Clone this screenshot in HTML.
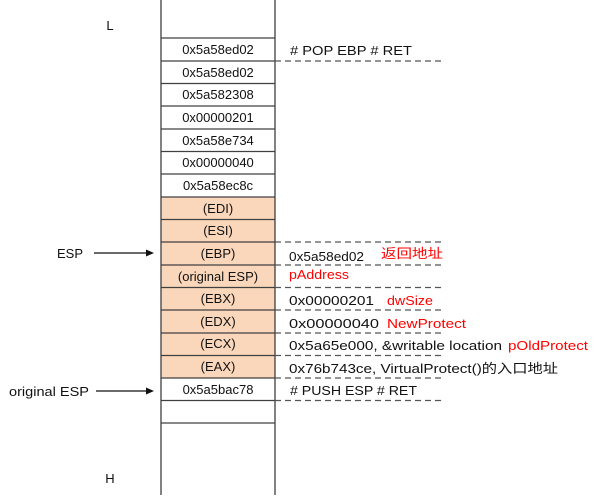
<!DOCTYPE html>
<html><head><meta charset="utf-8"><style>
html,body{margin:0;padding:0;background:#fff;}
svg text{font-family:"Liberation Sans","Noto Sans CJK SC",sans-serif;font-size:13px;}
</style></head><body>
<svg width="598" height="495" viewBox="0 0 598 495" xmlns="http://www.w3.org/2000/svg">
<rect x="161" y="197" width="114" height="181" fill="#fad7ba"/>
<g stroke="#404040" stroke-width="1.3">
<line x1="161" y1="0" x2="161" y2="495"/>
<line x1="275" y1="0" x2="275" y2="495"/>
<line x1="161" y1="38" x2="275" y2="38"/>
<line x1="161" y1="61" x2="275" y2="61"/>
<line x1="161" y1="83.5" x2="275" y2="83.5"/>
<line x1="161" y1="106" x2="275" y2="106"/>
<line x1="161" y1="129" x2="275" y2="129"/>
<line x1="161" y1="151.5" x2="275" y2="151.5"/>
<line x1="161" y1="174" x2="275" y2="174"/>
<line x1="161" y1="197" x2="275" y2="197"/>
<line x1="161" y1="219.5" x2="275" y2="219.5"/>
<line x1="161" y1="242" x2="275" y2="242"/>
<line x1="161" y1="265" x2="275" y2="265"/>
<line x1="161" y1="287.5" x2="275" y2="287.5"/>
<line x1="161" y1="310" x2="275" y2="310"/>
<line x1="161" y1="333" x2="275" y2="333"/>
<line x1="161" y1="355.5" x2="275" y2="355.5"/>
<line x1="161" y1="378" x2="275" y2="378"/>
<line x1="161" y1="400.5" x2="275" y2="400.5"/>
<line x1="161" y1="423" x2="275" y2="423"/>
</g>
<g stroke="#555" stroke-width="1.2" stroke-dasharray="6,4">
<line x1="275" y1="61" x2="445" y2="61"/>
<line x1="275" y1="242" x2="445" y2="242"/>
<line x1="275" y1="265" x2="445" y2="265"/>
<line x1="275" y1="287.5" x2="445" y2="287.5"/>
<line x1="275" y1="310" x2="445" y2="310"/>
<line x1="275" y1="333" x2="445" y2="333"/>
<line x1="275" y1="355.5" x2="445" y2="355.5"/>
<line x1="275" y1="378" x2="445" y2="378"/>
<line x1="275" y1="400.5" x2="445" y2="400.5"/>
</g>
<g text-anchor="middle" fill="#111">
<text x="218" y="54">0x5a58ed02</text>
<text x="218" y="77">0x5a58ed02</text>
<text x="218" y="99">0x5a582308</text>
<text x="218" y="122">0x00000201</text>
<text x="218" y="145">0x5a58e734</text>
<text x="218" y="167">0x00000040</text>
<text x="218" y="190">0x5a58ec8c</text>
<text x="218" y="213">(EDI)</text>
<text x="218" y="235">(ESI)</text>
<text x="218" y="258">(EBP)</text>
<text x="218" y="281">(original ESP)</text>
<text x="218" y="303">(EBX)</text>
<text x="218" y="326">(EDX)</text>
<text x="218" y="348">(ECX)</text>
<text x="218" y="371">(EAX)</text>
<text x="218" y="394">0x5a5bac78</text>
<text x="110" y="30">L</text>
<text x="110" y="483">H</text>
</g>
<g fill="#111">
<text x="290" y="55" textLength="122" lengthAdjust="spacingAndGlyphs">#  POP EBP  # RET</text>
<text x="289" y="261" textLength="75" lengthAdjust="spacingAndGlyphs">0x5a58ed02</text>
<text x="289" y="305" textLength="85" lengthAdjust="spacingAndGlyphs">0x00000201</text>
<text x="289" y="328" textLength="90" lengthAdjust="spacingAndGlyphs">0x00000040</text>
<text x="289" y="350" textLength="213" lengthAdjust="spacingAndGlyphs">0x5a65e000, &amp;writable location</text>
<text x="289" y="373" textLength="269" lengthAdjust="spacingAndGlyphs">0x76b743ce, VirtualProtect()的入口地址</text>
<text x="290" y="395" textLength="127" lengthAdjust="spacingAndGlyphs">#  PUSH ESP  # RET</text>
<text x="57" y="258">ESP</text>
<text x="9" y="396" textLength="80" lengthAdjust="spacingAndGlyphs">original ESP</text>
</g>
<g fill="#ff0000">
<text x="381" y="258" font-size="15" textLength="62" lengthAdjust="spacingAndGlyphs">返回地址</text>
<text x="289" y="279" textLength="60" lengthAdjust="spacingAndGlyphs">pAddress</text>
<text x="387" y="305" textLength="46" lengthAdjust="spacingAndGlyphs">dwSize</text>
<text x="387" y="328" textLength="79" lengthAdjust="spacingAndGlyphs">NewProtect</text>
<text x="508" y="350" textLength="80" lengthAdjust="spacingAndGlyphs">pOldProtect</text>
</g>
<g stroke="#111" stroke-width="1.2">
<line x1="94" y1="253" x2="148" y2="253"/>
<line x1="96" y1="391" x2="148" y2="391"/>
</g>
<polygon points="154,253 146,249.5 146,256.5" fill="#111"/>
<polygon points="154,391 146,387.5 146,394.5" fill="#111"/>
</svg>
</body></html>
